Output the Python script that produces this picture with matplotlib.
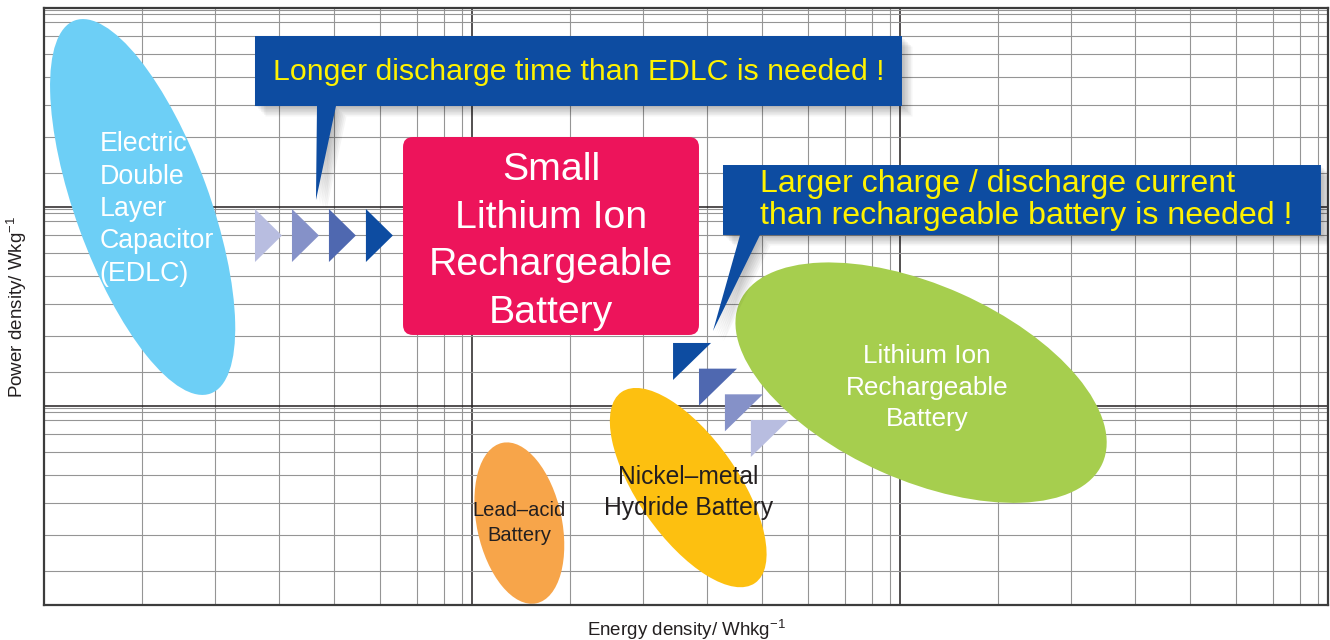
import matplotlib.pyplot as plt
import matplotlib.transforms as mtransforms
from matplotlib.patches import Ellipse, Polygon, FancyBboxPatch
from matplotlib.ticker import FixedLocator

plt.rcParams['font.family'] = ['Liberation Sans', 'DejaVu Sans']

# Zonas del diagrama de Ragone (centro aproximado de cada zona)
tecnologias = ['EDLC', 'Lead-acid', 'NiMH', 'Li-ion']
etiquetas = ['Electric\nDouble\nLayer\nCapacitor\n(EDLC)',
             'Lead–acid\nBattery',
             'Nickel–metal\nHydride Battery',
             'Lithium Ion\nRechargeable\nBattery']
energia = [1.70, 12.9, 32.0, 112.0]     # Wh/kg
potencia = [1000.0, 25.8, 38.9, 131.0]  # W/kg

# forma de cada zona: ancho, alto (pulgadas) y giro (grados)
formas = [(1.34, 3.97, 20), (0.85, 1.64, 12), (1.00, 2.33, 35), (3.97, 1.95, -24)]
colores = ['#6dcff6', '#f7a54a', '#fdc010', '#a6ce4e']
color_texto = ['white', '#231f20', '#231f20', 'white']
tam_texto = [19.3, 14.5, 17.7, 18.8]
interlineado = [1.32, 1.4, 1.4, 1.4]
desplaz = [(-43, -2, 'left'), (0, 0, 'center'), (0, -5, 'center'), (6, -5, 'center')]

# lineas secundarias de la rejilla dentro de cada decada
frac_x = [0.228, 0.399, 0.550, 0.678, 0.786, 0.872, 0.935, 0.977]
frac_y = [0.171, 0.352, 0.515, 0.653, 0.769, 0.859, 0.930, 0.970, 0.988]

azul = '#0d4ca1'
amarillo = '#fff200'
rosa = '#ed145b'
degradado = ['#b8bde0', '#8591c8', '#4f68b0', azul]


def callout(ax, caja, cola, zorder=5):
    x0, y0, x1, y1 = caja
    verts = [(x0, y1), (x1, y1), (x1, y0), (cola[1], y0), cola[2], (cola[0], y0), (x0, y0)]
    # sombra difusa
    for k in range(1, 8):
        tr = ax.transAxes + mtransforms.Affine2D().translate(1.5 * k, -1.5 * k)
        ax.add_patch(Polygon(verts, closed=True, transform=tr, fc='black', ec='none',
                             alpha=0.04, zorder=zorder - 1))
    ax.add_patch(Polygon(verts, closed=True, transform=ax.transAxes, fc=azul, ec='none',
                         zorder=zorder))


def graficar_ragone():
    fig = plt.figure(figsize=(13.3, 6.4), dpi=100)
    ax = fig.add_axes([0.0331, 0.0547, 0.9654, 0.9328])
    ax.set_xscale('log')
    ax.set_yscale('log')
    ax.set_xlim(1, 1000)
    ax.set_ylim(10, 10000)

    ax.xaxis.set_major_locator(FixedLocator([1, 10, 100, 1000]))
    ax.yaxis.set_major_locator(FixedLocator([10, 100, 1000, 10000]))
    ax.xaxis.set_minor_locator(FixedLocator([10 ** (d + f) for d in range(0, 3) for f in frac_x]))
    ax.yaxis.set_minor_locator(FixedLocator([10 ** (d + f) for d in range(1, 4) for f in frac_y]))
    ax.tick_params(which='both', length=0, labelbottom=False, labelleft=False)
    ax.set_axisbelow(True)
    ax.grid(which='major', color='#231f20', linewidth=1.1)
    ax.grid(which='minor', color='#959595', linewidth=0.8)
    for s in ax.spines.values():
        s.set_color('#3c3c3c')
        s.set_linewidth(1.6)

    # zonas
    for i in range(len(tecnologias)):
        w, h, ang = formas[i]
        tr = fig.dpi_scale_trans + mtransforms.ScaledTranslation(energia[i], potencia[i], ax.transData)
        ax.add_patch(Ellipse((0, 0), w, h, angle=ang, transform=tr, fc=colores[i], ec='none', zorder=2))
        dx, dy, ha = desplaz[i]
        ax.annotate(etiquetas[i], (energia[i], potencia[i]), xytext=(dx, dy), textcoords='offset pixels',
                    ha=ha, va='center', fontsize=tam_texto[i], color=color_texto[i],
                    linespacing=interlineado[i], zorder=3)

    # caja rosa
    ax.add_patch(FancyBboxPatch((0.2796, 0.4523), 0.2305, 0.3316, transform=ax.transAxes,
                                boxstyle='round,pad=0,rounding_size=0.0078', mutation_aspect=2.151,
                                fc=rosa, ec='none', zorder=3))
    ax.text(0.3949, 0.6089, 'Small\nLithium Ion\nRechargeable\nBattery', transform=ax.transAxes,
            ha='center', va='center', fontsize=28.3, color='white', linespacing=1.42, zorder=3)

    # flechas horizontales (EDLC -> caja)
    for i, c in enumerate(degradado):
        x = 0.1643 + 0.0288 * i
        tri = [(x, 0.6189 + 0.0444), (x + 0.0210, 0.6189), (x, 0.6189 - 0.0444)]
        ax.add_patch(Polygon(tri, closed=True, transform=ax.transAxes, fc=c, ec='none', zorder=3))

    # flechas diagonales (Li-ion -> caja)
    for i, c in enumerate(degradado[::-1]):
        x = 0.4899 + 0.0202 * i
        y = 0.4389 - 0.0430 * i
        tri = [(x, y), (x + 0.0296, y), (x, y - 0.0620)]
        ax.add_patch(Polygon(tri, closed=True, transform=ax.transAxes, fc=c, ec='none', zorder=3))

    # globos de texto
    callout(ax, (0.1643, 0.8358, 0.6682, 0.9531), (0.2126, 0.2274, (0.2118, 0.6784)))
    ax.text(0.1783, 0.8928, 'Longer discharge time than EDLC is needed !', transform=ax.transAxes,
            ha='left', va='center', fontsize=21.75, color=amarillo, zorder=6)

    callout(ax, (0.5288, 0.6198, 0.9945, 0.7370), (0.5421, 0.5576, (0.5210, 0.4590)))
    ax.text(0.5576, 0.6784, 'Larger charge / discharge current\nthan rechargeable battery is needed !',
            transform=ax.transAxes, ha='left', va='center', fontsize=23.1, color=amarillo,
            linespacing=1.1, zorder=6)

    fig.text(0.5165, 0.0156, 'Energy density/ Whkg$^{\\mathregular{-1}}$', ha='center', va='center',
             fontsize=13.5, color='#231f20')
    fig.text(0.0128, 0.5203, 'Power density/ Wkg$^{\\mathregular{-1}}$', ha='center', va='center',
             rotation=90, fontsize=13.5, color='#231f20')

    fig.savefig('out.png', dpi=100)


graficar_ragone()
